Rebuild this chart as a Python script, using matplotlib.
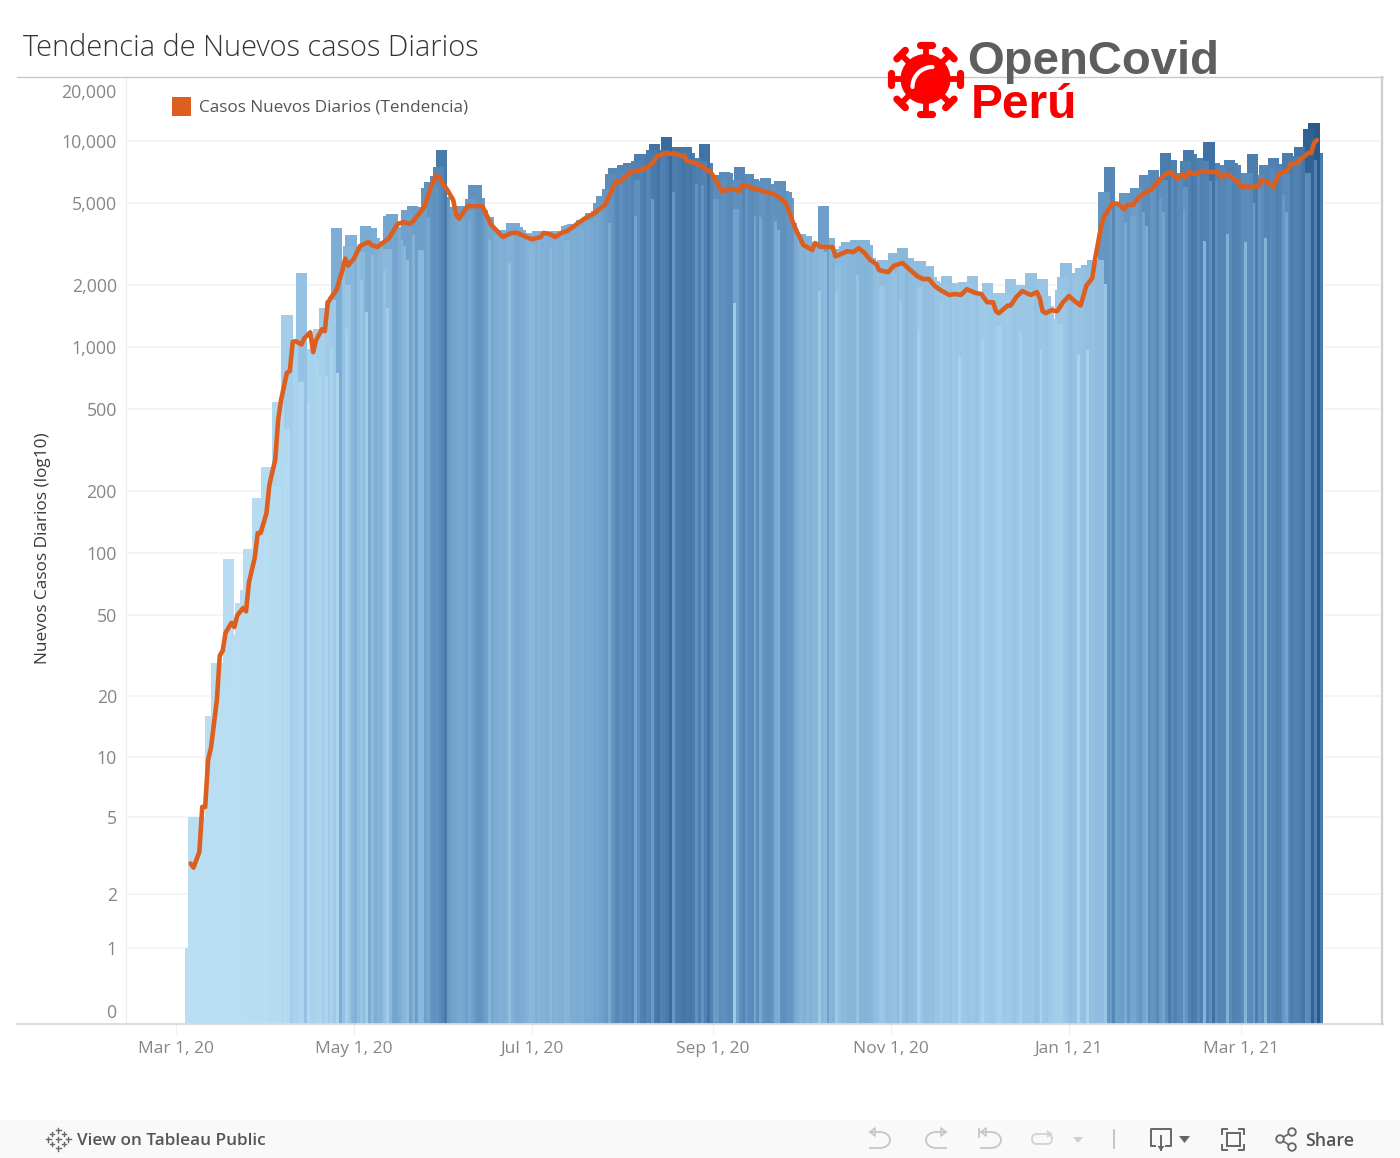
import numpy as np
import pandas as pd
import matplotlib
matplotlib.use("Agg")
import matplotlib.pyplot as plt
import matplotlib.dates as mdates
from matplotlib.colors import LinearSegmentedColormap
from matplotlib.patches import Rectangle, Circle, Arc, FancyBboxPatch

# ---------- data ----------
FIRST_BAR_DATE = "2020-03-06"
AXIS_ORIGIN_DATE = "2020-03-01"

DAILY_NEW_CASES = [
    1,5,2,5,1,
    3,2,16,5,29,12,20,22,93,28,
    36,40,57,45,66,105,60,80,185,90,
    120,261,150,170,210,540,260,400,1430,900,
    1050,680,680,2290,530,975,975,850,720,1230,
    720,1540,1000,1700,750,3785,2300,1220,2000,3110,
    3500,2700,2110,2900,1480,3870,2800,3785,3380,3270,
    2360,1540,3000,4320,4430,3830,3300,3100,2660,4630,
    3500,4830,2970,2970,4770,4260,5900,6320,5900,6760,
    7480,9000,5340,4800,4450,4300,4000,4300,4830,4150,
    4600,5240,6100,6100,5300,4650,3300,4260,3800,3700,
    3500,3690,3500,2550,3500,4000,4000,3830,3690,3420,
    2960,3200,3580,3300,3655,3500,3655,3050,3600,3500,
    3655,3600,3130,3300,3870,3900,3960,3800,3700,4150,
    4000,4100,4450,4300,4600,5000,5420,4000,5840,6920,
    7380,6500,7000,7670,7000,7840,4340,6500,8000,8650,
    7500,7670,5240,9000,9670,8000,8500,9000,10450,5650,
    8500,8800,9350,9350,9000,9350,8750,6200,8300,6100,
    8000,9670,7840,5240,5240,6840,6500,6600,7040,7000,
    1640,4670,6500,7480,6000,6900,6920,4340,6540,4260,
    5800,6400,6610,6000,4090,3700,6200,6390,5700,5650,
    5290,4000,3540,3300,3540,3100,3450,3230,3230,1870,
    3000,2900,4830,3200,3380,1830,2500,3000,2900,3100,
    3230,3100,2240,3300,3200,3300,3300,3130,2700,2500,
    1970,1970,2660,2550,2400,2300,2870,1670,2500,3020,
    2700,2700,2500,1220,1950,2610,2480,2400,2480,2190,
    2100,1690,2040,2000,2210,1800,2040,900,1900,2000,
    2070,2000,1900,2210,1800,1090,1700,1800,2040,1800,
    1260,1260,1820,1700,1700,1800,2130,1900,1180,2000,
    1900,1900,1900,2290,2100,970,2000,2130,1770,1590,
    1370,1300,1300,1900,2190,2550,2300,2100,925,2210,
    2410,970,2500,2400,2660,2660,2660,2030,5650,5000,
    7480,4640,4800,5000,4000,5590,4340,4340,5000,5900,
    4530,3870,6840,5800,6000,7230,5290,4530,6500,8750,
    7000,8100,7000,7000,4640,6000,8000,9040,8650,7000,
    8290,3270,8000,6390,9890,6390,7840,7500,7670,3530,
    7000,8100,7840,7670,6840,3220,6840,7000,5000,8650,
    6000,6840,3370,7670,7000,7500,8290,7700,5490,4530,
    7000,8750,8000,8000,8500,9350,6610,7000,11400,8100,
    12200,8750,
]

TREND_DAY = [5,6,8,9,10,11,12,14,15,16,17,19,20,21,23,24,25,27,28,29,31,32,33,34,35,36,38,39,40,41,43,44,46,47,48,50,51,52,53,55,57,58,59,61,
    63,65,66,67,69,73,76,78,80,81,85,87,89,90,93,95,96,97,100,105,108,112,115,117,120,122,125,126,128,130,132,134,137,140,143,147,150,151,152,
    155,156,158,160,161,163,165,168,170,171,173,174,175,178,180,182,183,185,187,191,193,194,196,198,199,202,204,207,209,212,215,218,219,221,225,
    226,228,230,232,234,236,238,240,241,244,246,249,251,254,256,258,260,262,265,267,269,271,274,276,278,280,281,282,285,286,288,290,293,295,296,
    297,298,300,302,304,306,308,310,312,314,315,317,318,320,321,323,325,326,328,330,333,334,337,339,341,343,345,346,347,349,352,354,357,358,360,
    362,364,365,366,368,371,372,374,376,378,381,382,384,386,388,389,390,391]
TREND_VALUE = [2.9,2.76,3.33,5.65,5.65,9.7,11.2,19.1,31.6,33.4,40.9,45.7,43.6,49.7,54,52,72,95,125,125,156,214,247,283,442,553,750,764,1060,1069,1030,1105,1180,945,1080,1220,1195,1635,1730,1890,2360,2690,2490,2690,
    3090,3190,3235,3130,3060,3380,3960,4040,3960,4040,4770,5780,6760,6680,5780,5170,4390,4200,4830,4830,3920,3420,3580,3580,3420,3340,3420,3580,3540,3420,3580,3655,3920,4200,4430,4900,6040,6390,6320,
    6910,7150,7150,7310,7390,7730,8450,8750,8650,8750,8450,8550,8000,7820,7560,7230,7150,6460,5720,5850,5720,6110,6040,5850,5850,5650,5590,5290,5000,3830,3130,2960,3200,3060,3060,
    2760,2830,2920,2890,3020,2860,2640,2530,2360,2310,2480,2560,2410,2210,2140,2140,1980,1890,1790,1810,1790,1910,1830,1810,1650,1650,1494,1460,1590,1590,1750,1869,1790,1850,1730,
    1494,1460,1510,1494,1650,1770,1670,1590,1990,2160,2690,3830,4300,4750,5000,4950,4670,4900,4900,5340,5720,5780,6460,6910,7070,6540,6910,6680,7070,6910,7150,7070,7070,6680,6910,
    6610,6320,5980,6040,5980,6040,6460,6320,5980,6910,7230,7730,7820,8280,8750,8750,9780,10110]

Y_TICKS = [1, 2, 5, 10, 20, 50, 100, 200, 500, 1000, 2000, 5000, 10000]
X_TICK_DATES = ["2020-03-01", "2020-05-01", "2020-07-01", "2020-09-01", "2020-11-01", "2021-01-01", "2021-03-01"]
X_TICK_LABELS = ["Mar 1, 20", "May 1, 20", "Jul 1, 20", "Sep 1, 20", "Nov 1, 20", "Jan 1, 21", "Mar 1, 21"]

TITLE = "Tendencia de Nuevos casos Diarios"
Y_LABEL = "Nuevos Casos Diarios (log10)"
LEGEND_LABEL = "Casos Nuevos Diarios (Tendencia)"

# ---------- figure ----------
W, H = 1400, 1158
FONT = "Open Sans"
plt.rcParams["font.family"] = [FONT, "DejaVu Sans"]
fig = plt.figure(figsize=(W / 100, H / 100), dpi=100, facecolor="white")

L, R, T, B = 126, 1382, 77, 1023.5
ax = fig.add_axes([L / W, 1 - B / H, (R - L) / W, (B - T) / H])
ax.set_facecolor("white")

OFFSET = 0.22
ax.set_yscale("function", functions=(lambda v: np.log10(np.maximum(v, 0) + OFFSET),
                                     lambda u: 10.0 ** u - OFFSET))

origin = mdates.date2num(pd.Timestamp(AXIS_ORIGIN_DATE))
PX_PER_DAY = 2.918
ORIGIN_PX = 176
ax.set_xlim(origin + (L - ORIGIN_PX) / PX_PER_DAY, origin + (R - ORIGIN_PX) / PX_PER_DAY)
ax.set_ylim(0.302, 20450)

values = np.array(DAILY_NEW_CASES, dtype=float)
bar_dates = mdates.date2num(pd.date_range(FIRST_BAR_DATE, periods=len(values)))

cmap_stops = [(1, "#b9def2"), (1000, "#a8d2ec"), (2000, "#9ac6e5"), (3700, "#7eaed5"),
              (5000, "#6b9dc8"), (7000, "#5a8ab9"), (9000, "#487aaa"), (12200, "#2a5a8c")]
vmax = cmap_stops[-1][0]
cmap = LinearSegmentedColormap.from_list(
    "cases", [((v - 1) / (vmax - 1), c) for v, c in cmap_stops])
colors = cmap((values - 1) / (vmax - 1))

# earlier dates lie on top of later ones
ax.bar(bar_dates[::-1], values[::-1], width=11.3 / PX_PER_DAY, bottom=0, color=colors[::-1],
       linewidth=0, zorder=2)

ax.plot(origin + np.array(TREND_DAY), TREND_VALUE, color="#dd5f20", lw=3.3, zorder=3,
        solid_joinstyle="round", solid_capstyle="round")

ax.set_yticks(Y_TICKS)
ax.set_yticklabels([f"{v:,}" for v in Y_TICKS])
ax.yaxis.set_minor_locator(matplotlib.ticker.NullLocator())
ax.set_xticks(mdates.date2num(pd.to_datetime(X_TICK_DATES)))
ax.set_xticklabels(X_TICK_LABELS)
ax.tick_params(axis="y", length=0, pad=6.5, labelsize=12.8, labelcolor="#868686")
ax.tick_params(axis="x", length=7, width=1, color="#f0f0f0", pad=5.5, labelsize=12.5, labelcolor="#868686")
ax.grid(axis="y", color="#f4f4f4", lw=1.2, zorder=0)
ax.set_axisbelow(True)
for s in ("top", "bottom", "right"):
    ax.spines[s].set_visible(False)
ax.spines["left"].set_color("#ececec")

# the two end labels are pushed inside the plot area
tick_kw = dict(xycoords="axes fraction", ha="right", va="center", fontsize=12.8, color="#868686",
               annotation_clip=False)
ax.annotate("0", xy=(0, 0), xytext=(-10, 10), textcoords="offset pixels", **tick_kw)
ax.annotate("20,000", xy=(0, 1), xytext=(-10, -16), textcoords="offset pixels", **tick_kw)

# ---------- overlay ----------
ov = fig.add_axes([0, 0, 1, 1], zorder=5)
ov.set_xlim(0, W)
ov.set_ylim(H, 0)
ov.axis("off")
ov.patch.set_alpha(0)

ov.plot([17, 1383], [B, B], color="#d9d9d9", lw=1.3)
ov.plot([17, 1383], [T, T], color="#c9c9c9", lw=1)
ov.plot([R, R], [T, B], color="#cfcfcf", lw=1.6)

ov.text(23, 48.5, TITLE, fontsize=20.9, color="#333333", va="center", ha="left",
        family=["Open Sans", "DejaVu Sans"], fontweight="light")
ov.text(43, 548, Y_LABEL, fontsize=12.4, color="#3a3a3a", rotation=90, va="center", ha="center")
ov.add_patch(Rectangle((172, 97), 19, 19, color="#dd5f20", lw=0))
ov.text(199, 108, LEGEND_LABEL, fontsize=12.3, color="#555555", va="center", ha="left")

# logo
ov.add_patch(Rectangle((873, 30), 360, 94, color="white", lw=0))
cx, cy = 925.5, 79
red = "#ff0000"
for a in np.deg2rad(np.arange(0, 360, 45)):
    ux, uy = np.cos(a), np.sin(a)
    ov.plot([cx + 18 * ux, cx + 33 * ux], [cy + 18 * uy, cy + 33 * uy], color=red, lw=4.2, zorder=3)
    ov.plot([cx + 34.5 * ux - 6 * uy, cx + 34.5 * ux + 6 * uy], [cy + 34.5 * uy + 6 * ux, cy + 34.5 * uy - 6 * ux],
            color=red, lw=5.2, solid_capstyle="round", zorder=3)
ov.add_patch(Circle((cx, cy), 25, fc=red, ec="none", lw=0, zorder=4))
t = np.deg2rad(np.linspace(180, 270, 30))
ov.plot(cx + 7 + 20 * np.cos(t), cy + 8 + 20 * np.sin(t), color="white", lw=3.0, zorder=5,
        solid_capstyle="round")
ov.text(967, 62.5, "OpenCovid", fontsize=34, fontweight="bold", color="#5e5e5e", va="center", ha="left",
        family=["Liberation Sans"])
ov.text(971, 105, "Perú", fontsize=34.5, fontweight="bold", color="#f70000", va="center", ha="left",
        family=["Liberation Sans"])

# toolbar
ov.add_patch(Rectangle((0, 1120), W, 38, color="#f9f9f9", lw=0))
ov.text(77, 1141, "View on Tableau Public", fontsize=12.3, fontweight="semibold", color="#555555", va="center", ha="left",
        family=["Open Sans"])
ov.text(1305, 1141, "Share", fontsize=12.8, fontweight="semibold", color="#555555", va="center", ha="left",
        family=["Open Sans"])
for (dx, dy, s) in [(0, -9, 2.5), (-6, -5, 2), (6, -5, 2), (-10, 0, 2.5), (0, 0, 2.5), (10, 0, 2.5), (-6, 5, 2), (6, 5, 2), (0, 9, 2.5)]:
    ov.plot([58 + dx - s, 58 + dx + s], [1139 + dy, 1139 + dy], color="#666666", lw=1)
    ov.plot([58 + dx, 58 + dx], [1139 + dy - s, 1139 + dy + s], color="#666666", lw=1)

grey = "#c9c9c9"
def arrow(x0, flip, col=grey):
    s = -1 if flip else 1
    ov.add_patch(Arc((x0, 1140), 20, 16, theta1=-90 if not flip else 90, theta2=90 if not flip else 270, color=col, lw=1.4))
    ov.plot([x0 - s * 10, x0], [1132, 1132], color=col, lw=1.4)
    ov.plot([x0 - s * 10, x0], [1148, 1148], color=col, lw=1.4)
    ov.plot([x0 - s * 10, x0 - s * 5, x0 - s * 5, x0 - s * 10],
            [1132, 1128, 1136, 1132], color=col, lw=1.2)
arrow(880, False)
arrow(936, True)
arrow(991, False)
ov.plot([979, 979], [1129, 1137], color=grey, lw=1.4)
ov.add_patch(FancyBboxPatch((1032, 1134), 20, 10, boxstyle="round,pad=0,rounding_size=5", fc="#f9f9f9", ec="#d4d4d4", lw=1.4))
ov.fill([1047, 1053, 1047], [1130, 1134, 1138], color="#d4d4d4", lw=0)
ov.fill([1073, 1083, 1078], [1137, 1137, 1143], color="#cfcfcf", lw=0)
ov.plot([1114, 1114], [1130, 1148], color="#bbbbbb", lw=1.2)

dark = "#666666"
ov.plot([1155, 1151, 1151, 1171, 1171, 1166], [1146, 1146, 1129, 1129, 1146, 1146], color=dark, lw=1.4)
ov.plot([1161, 1161], [1136, 1150], color=dark, lw=1.4)
ov.fill([1157.5, 1164.5, 1161], [1146, 1146, 1151], color=dark, lw=0)
ov.fill([1179, 1190, 1184.5], [1136, 1136, 1143], color=dark, lw=0)
ov.add_patch(Rectangle((1227, 1133), 13, 13, fc="none", ec=dark, lw=1.4))
for px, py, sx, sy in [(1222, 1129, 1, 1), (1244, 1129, -1, 1), (1222, 1150, 1, -1), (1244, 1150, -1, -1)]:
    ov.plot([px + sx * 5, px, px], [py, py, py + sy * 5], color=dark, lw=1.4)
sx = [1280, 1292, 1292]
sy = [1139, 1132, 1147]
ov.plot([sx[1], sx[0], sx[2]], [sy[1], sy[0], sy[2]], color=dark, lw=1.2)
for a, b in zip(sx, sy):
    ov.add_patch(Circle((a, b), 3.8, fc="#f9f9f9", ec=dark, lw=1.3, zorder=6))

fig.savefig("out.png", dpi=100)
assert len(DAILY_NEW_CASES) == 387 and len(TREND_DAY) == len(TREND_VALUE), (len(DAILY_NEW_CASES), len(TREND_DAY), len(TREND_VALUE))
